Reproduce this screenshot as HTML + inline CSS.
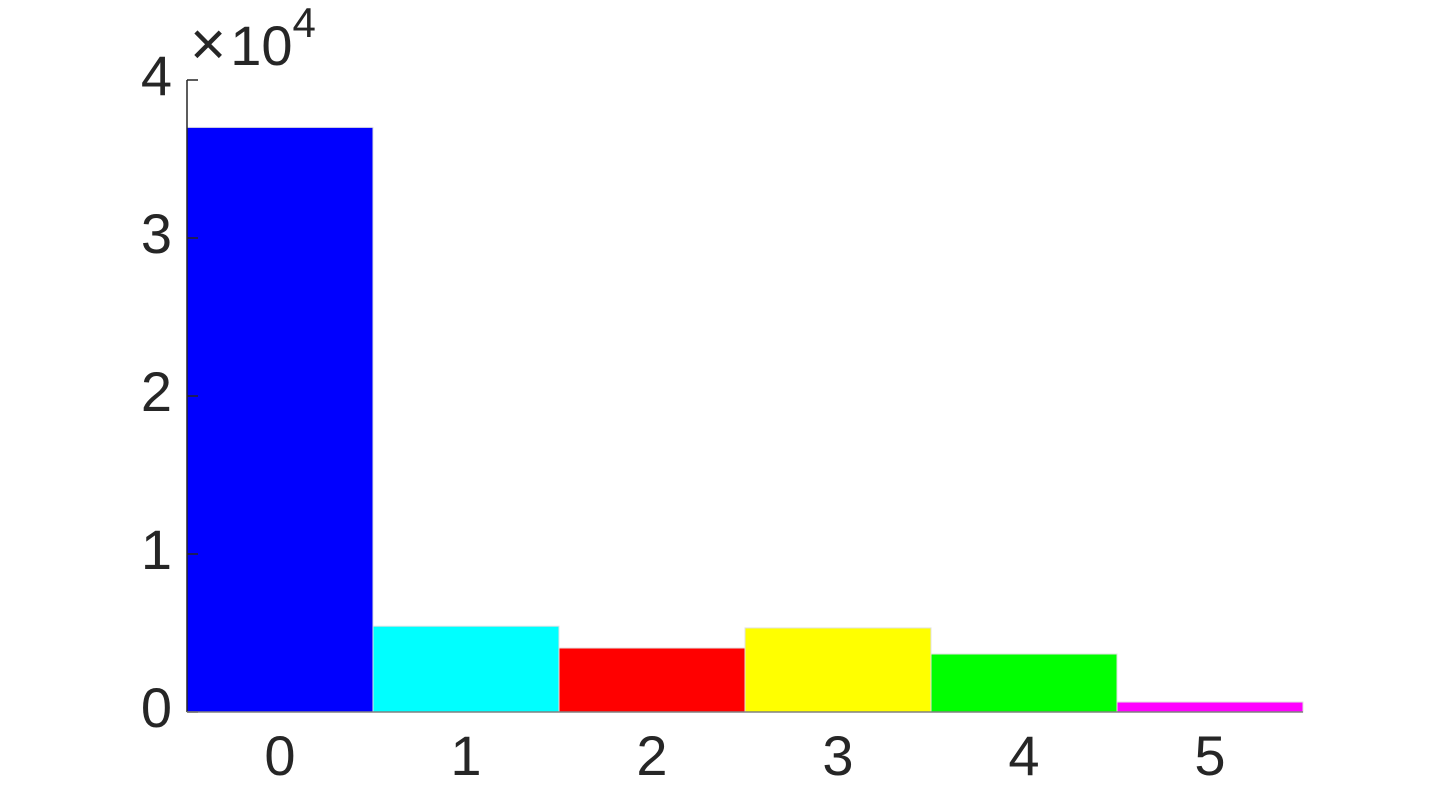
<!DOCTYPE html>
<html><head><meta charset="utf-8"><style>
body{margin:0;background:#fff;width:1440px;height:800px;overflow:hidden}
svg text{font-family:"Liberation Sans",sans-serif;fill:#262626}
</style></head><body>
<svg id="c" width="1440" height="800"></svg>
<script>
const categories=["0","1","2","3","4","5"];
const values=[37000,5430,4050,5320,3670,630];
const colors=["#0000ff","#00ffff","#ff0000","#ffff00","#00ff00","#ff00ff"];
const yTicks=[0,10000,20000,30000,40000];
const yTickLabels=["0","1","2","3","4"];
const svg=document.getElementById('c');
const NS="http://www.w3.org/2000/svg";
const X0=187,X1=1303,Y0=712,Y1=80;
const xs=v=>X0+(v+0.5)/6*(X1-X0);
const ys=v=>Y0-v/40000*(Y0-Y1);
function mk(t,a){const e=document.createElementNS(NS,t);for(const k in a)e.setAttribute(k,a[k]);svg.appendChild(e);return e;}
categories.forEach((c,i)=>{
 const l=xs(i-0.5),r=xs(i+0.5);
 const b=mk('rect',{x:l,y:ys(values[i]),width:r-l,height:Y0-ys(values[i]),fill:colors[i],stroke:'#e0e0e0','stroke-width':1});
 
 
 const t=mk('text',{x:xs(i),y:Y0+63,'font-size':56,'text-anchor':'middle'});t.textContent=c;
 
 
});
yTicks.forEach((v,i)=>{
 const t=mk('text',{x:172,y:ys(v)+15,'font-size':56,'text-anchor':'end'});t.textContent=yTickLabels[i];
 
 
 const k=mk('line',{x1:X0,x2:X0+11,y1:ys(v),y2:ys(v),stroke:'#262626','stroke-width':1.5});
 
 
});
const ya=mk('line',{x1:X0,x2:X0,y1:Y1,y2:Y0,stroke:'#262626','stroke-width':1.5});


const xa=mk('line',{x1:X0,x2:X1,y1:Y0,y2:Y0,stroke:'#808080','stroke-width':1.5});


const ex=mk('text',{x:190,y:65,'font-size':56});ex.innerHTML='<tspan font-size="62">×</tspan><tspan dx="4">10</tspan><tspan dy="-28" font-size="42">4</tspan>';


</script>
</body></html>
